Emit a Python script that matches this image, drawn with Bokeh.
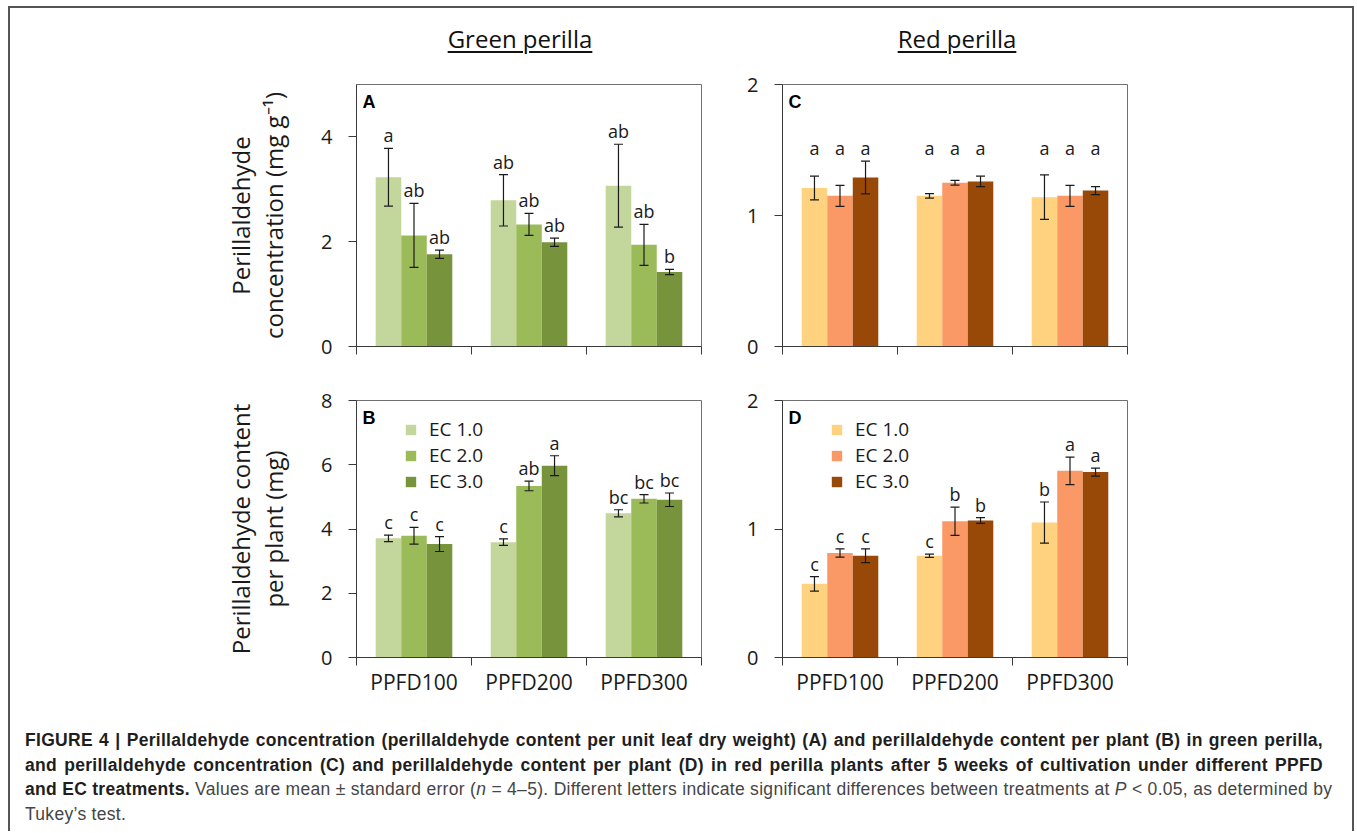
from bokeh.plotting import figure
from bokeh.models import (ColumnDataSource, Range1d, FixedTicker, Whisker, Label,
                          Legend, LegendItem, Div)
from bokeh.layouts import column, row
from bokeh.embed import file_html
from bokeh.resources import INLINE
from bokeh.core.properties import value

# ---------------- data ----------------
categories = ["PPFD100", "PPFD200", "PPFD300"]
ec_levels = ["EC 1.0", "EC 2.0", "EC 3.0"]

# Panel A: green perilla, perillaldehyde concentration (mg g-1); rows = EC level
a_mean = [[3.23, 2.79, 3.07], [2.12, 2.33, 1.94], [1.76, 1.99, 1.42]]
a_se = [[0.55, 0.49, 0.79], [0.61, 0.21, 0.39], [0.08, 0.08, 0.05]]
a_letters = [["a", "ab", "ab"], ["ab", "ab", "ab"], ["ab", "ab", "b"]]

# Panel B: green perilla, perillaldehyde content per plant (mg)
b_mean = [[3.71, 3.59, 4.49], [3.79, 5.34, 4.94], [3.53, 5.97, 4.91]]
b_se = [[0.10, 0.10, 0.11], [0.26, 0.15, 0.13], [0.23, 0.31, 0.21]]
b_letters = [["c", "c", "bc"], ["c", "ab", "bc"], ["c", "a", "bc"]]

# Panel C: red perilla, perillaldehyde concentration (mg g-1)
c_mean = [[1.21, 1.15, 1.14], [1.15, 1.25, 1.15], [1.29, 1.26, 1.19]]
c_se = [[0.09, 0.017, 0.17], [0.08, 0.018, 0.08], [0.125, 0.04, 0.03]]
c_letters = [["a", "a", "a"], ["a", "a", "a"], ["a", "a", "a"]]

# Panel D: red perilla, perillaldehyde content per plant (mg)
d_mean = [[0.573, 0.792, 1.05], [0.813, 1.06, 1.453], [0.792, 1.066, 1.443]]
d_se = [[0.057, 0.013, 0.16], [0.032, 0.11, 0.107], [0.054, 0.023, 0.031]]
d_letters = [["c", "c", "b"], ["c", "b", "a"], ["c", "b", "a"]]

a_yticks = [0, 2, 4]
b_yticks = [0, 2, 4, 6, 8]
c_yticks = [0, 1, 2]
d_yticks = [0, 1, 2]

green_colors = ["#c3d69b", "#9bbb59", "#77933c"]
red_colors = ["#ffd27f", "#fa9966", "#984807"]

caption_lines = [
    "<b>FIGURE 4 | Perillaldehyde concentration (perillaldehyde content per unit leaf dry weight) (A) "
    "and perillaldehyde content per plant (B) in green perilla,</b>",
    "<b>and perillaldehyde concentration (C) and perillaldehyde content per plant (D) in red perilla "
    "plants after 5 weeks of cultivation under different PPFD</b>",
    "<b>and EC treatments.</b> Values are mean \u00b1 standard error (<i>n</i> = 4\u20135). "
    "Different letters indicate significant differences between treatments at <i>P</i> &lt; 0.05, "
    "as determined by",
    "Tukey\u2019s test.",
]

AXIS_COLOR = "#3a3a3a"
TEXT_COLOR = "#1a1a1a"
FONT = "Open Sans"


def make_panel(mean, se, letters, colors, ymax, yticks, ylabel, tag,
               width, height, left, right, top, bottom, show_xlabels,
               legend_loc=None, common_letter_level=False, letter_offset=-13):
    p = figure(width=width, height=height, min_border_left=left, min_border_right=right,
               min_border_top=top, min_border_bottom=bottom,
               x_range=Range1d(0, len(categories)), y_range=Range1d(0, ymax),
               output_backend="svg", toolbar_location=None)
    p.grid.visible = False
    p.outline_line_color = "#707070"
    p.outline_line_width = 1
    p.background_fill_color = "white"
    p.border_fill_color = "white"

    bar_w = 0.222
    offsets = [-bar_w, 0.0, bar_w]
    top_level = max(m + s for mm, ss in zip(mean, se) for m, s in zip(mm, ss))
    items = []
    for k in range(len(mean)):
        xs = [i + 0.5 + offsets[k] for i in range(len(categories))]
        upper = [m + s for m, s in zip(mean[k], se[k])]
        lower = [m - s for m, s in zip(mean[k], se[k])]
        ly = [top_level] * len(upper) if common_letter_level else upper
        src = ColumnDataSource(dict(x=xs, top=mean[k], upper=upper, lower=lower,
                                    letter=letters[k], ly=ly))
        r = p.vbar(x="x", top="top", bottom=0, width=bar_w, source=src,
                   fill_color=colors[k], line_color=None)
        items.append(LegendItem(label=ec_levels[k], renderers=[r]))
        w = Whisker(source=src, base="x", upper="upper", lower="lower",
                    line_color=TEXT_COLOR, line_width=1.2, level="overlay")
        w.upper_head.size = 9
        w.lower_head.size = 9
        w.upper_head.line_color = TEXT_COLOR
        w.lower_head.line_color = TEXT_COLOR
        w.upper_head.line_width = 1.2
        w.lower_head.line_width = 1.2
        p.add_layout(w)
        p.text(x="x", y="ly", text="letter", source=src, text_align="center",
               text_baseline="alphabetic", y_offset=letter_offset,
               text_font=value(FONT), text_font_size="18px", text_color=TEXT_COLOR)

    if legend_loc is not None:
        leg = Legend(items=items, location=legend_loc, background_fill_alpha=0,
                     border_line_color=None, glyph_width=13, glyph_height=13,
                     label_height=20, spacing=-3, padding=0, margin=0, label_standoff=12,
                     label_text_font=FONT, label_text_font_size="19px",
                     label_text_color=TEXT_COLOR)
        p.add_layout(leg)

    p.add_layout(Label(x=0, y=ymax, x_offset=6, y_offset=-7, text=tag,
                       text_baseline="top", text_font="Liberation Sans",
                       text_font_style="bold", text_font_size="18px",
                       text_color="black"))

    ya = p.yaxis[0]
    ya.ticker = FixedTicker(ticks=yticks)
    ya.major_tick_out = 8
    ya.major_tick_in = 0
    ya.minor_tick_out = 0
    ya.minor_tick_in = 0
    ya.axis_line_color = AXIS_COLOR
    ya.major_tick_line_color = AXIS_COLOR
    ya.major_label_text_font = FONT
    ya.major_label_text_font_size = "20px"
    ya.major_label_text_color = TEXT_COLOR
    ya.major_label_standoff = 16
    if ylabel:
        ya.axis_label = ylabel
        ya.axis_label_text_font = FONT
        ya.axis_label_text_font_size = "24px"
        ya.axis_label_text_font_style = "normal"
        ya.axis_label_text_color = TEXT_COLOR
        ya.axis_label_text_line_height = 1.0
        ya.axis_label_standoff = 28

    xa = p.xaxis[0]
    xa.ticker = FixedTicker(ticks=[i + 0.5 for i in range(len(categories))],
                            minor_ticks=list(range(len(categories) + 1)))
    xa.major_label_overrides = {i + 0.5: c for i, c in enumerate(categories)}
    xa.major_tick_out = 0
    xa.major_tick_in = 0
    xa.minor_tick_out = 8
    xa.minor_tick_in = 0
    xa.axis_line_color = AXIS_COLOR
    xa.minor_tick_line_color = AXIS_COLOR
    xa.major_label_text_font = FONT
    xa.major_label_standoff = 2
    if show_xlabels:
        xa.major_label_text_font_size = "21px"
        xa.major_label_text_color = TEXT_COLOR
    else:
        xa.major_label_text_font_size = "1px"
        xa.major_label_text_color = None
    return p


pA = make_panel(a_mean, a_se, a_letters, green_colors, 5, a_yticks,
                "Perillaldehyde\nconcentration (mg g\u207b\u00b9)", "A",
                732, 320, 346, 41, 24, 34, False)
pC = make_panel(c_mean, c_se, c_letters, red_colors, 2, c_yticks, None, "C",
                610, 320, 40, 225, 24, 34, False, common_letter_level=True, letter_offset=-13)
pB = make_panel(b_mean, b_se, b_letters, green_colors, 8, b_yticks,
                "Perillaldehyde content\nper plant (mg)", "B",
                732, 325, 346, 41, 20, 48, True, legend_loc=(48, 163))
pD = make_panel(d_mean, d_se, d_letters, red_colors, 2, d_yticks, None, "D",
                610, 325, 40, 225, 20, 48, True, legend_loc=(48, 163))

title_html = (
    '<div style="position:relative;width:1342px;height:52px;font-family:\'Open Sans\';'
    'font-size:24px;color:#111;">'
    '<span style="position:absolute;left:510px;top:14px;transform:translateX(-50%);'
    'white-space:nowrap;text-decoration:underline;text-decoration-thickness:2px;'
    'text-underline-offset:3px;">Green perilla</span>'
    '<span style="position:absolute;left:947px;top:14px;transform:translateX(-50%);'
    'white-space:nowrap;text-decoration:underline;text-decoration-thickness:2px;'
    'text-underline-offset:3px;">Red perilla</span></div>'
)
title_div = Div(text=title_html, width=1342, height=52, margin=0)

just = 'text-align:justify;text-align-last:justify;white-space:nowrap;'
cap_parts = []
for i, ln in enumerate(caption_lines):
    style = just if i < len(caption_lines) - 1 else 'white-space:nowrap;'
    cap_parts.append('<div style="' + style + '">' + ln + '</div>')
caption_div = Div(
    text=('<style>b{color:#1e1e1e;}</style>'
          '<div style="padding:23px 0 0 15px;width:1313px;font-family:\'Liberation Sans\';'
          'font-size:17.5px;letter-spacing:0.3px;line-height:24.5px;color:#454545;">'
          + "".join(cap_parts) + '</div>'),
    width=1342, height=126, margin=0, styles={"overflow": "hidden"})

root = column(title_div, row(pA, pC), row(pB, pD), caption_div, margin=(6, 0, 0, 8),
              styles={"border-left": "2px solid #555", "border-top": "2px solid #555",
                      "border-right": "2px solid #555"})

open("out.html", "w").write(file_html(root, INLINE))
